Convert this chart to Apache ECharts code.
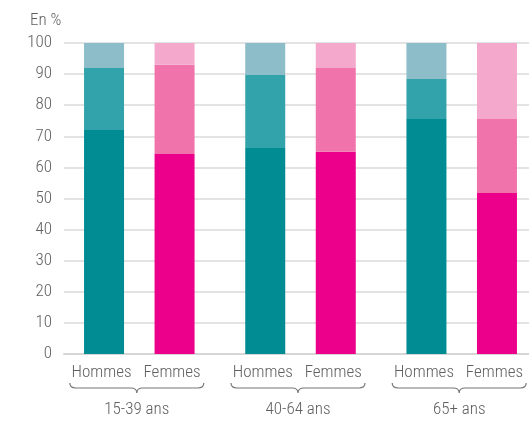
<!DOCTYPE html>
<html>
<head>
<meta charset="utf-8">
<script src="https://cdn.jsdelivr.net/npm/echarts@6/dist/echarts.min.js"></script>
<style>html,body{margin:0;padding:0;background:#fff}#c{width:529px;height:422px}</style>
</head>
<body>
<div id="c"></div>
<script>
// ---- data ----
const groups = ['15-39 ans', '40-64 ans', '65+ ans'];
const sexes = ['Hommes', 'Femmes'];
const hommesBas = [72.0, 66.2, 75.6];
const hommesMilieu = [20.0, 23.5, 12.8];
const hommesHaut = [8.0, 10.3, 11.6];
const femmesBas = [64.3, 65.0, 51.8];
const femmesMilieu = [28.7, 27.0, 23.8];
const femmesHaut = [7.0, 8.0, 24.4];
const yTicks = [0, 10, 20, 30, 40, 50, 60, 70, 80, 90, 100];

// ---- layout constants ----
const GAP_IN = 6;   // empty slots between Hommes and Femmes
const GAP_OUT = 8;  // empty slots between groups
const FONT = '"Roboto Condensed", "Roboto", sans-serif';
const FS = 17;
const FW = 300;
const TXT = '#606060';
const colors = {
  Hommes: ['#008c92', '#33a3ab', '#8cbdc8'],
  Femmes: ['#ec008b', '#f173ab', '#f4a8cb']
};
const values = {
  Hommes: [hommesBas, hommesMilieu, hommesHaut],
  Femmes: [femmesBas, femmesMilieu, femmesHaut]
};

// build category slots
const cats = [];
const slotOf = [];
groups.forEach((g, gi) => {
  if (gi > 0) for (let k = 0; k < GAP_OUT; k++) cats.push('');
  slotOf[gi] = [];
  sexes.forEach((s, si) => {
    if (si > 0) for (let k = 0; k < GAP_IN; k++) cats.push('');
    slotOf[gi][si] = cats.length;
    cats.push(s);
  });
});

const levelSeries = [0, 1, 2].map(level => {
  const data = cats.map(() => null);
  groups.forEach((g, gi) => {
    sexes.forEach((s, si) => {
      data[slotOf[gi][si]] = {
        value: values[s][level][gi],
        itemStyle: { color: colors[s][level] }
      };
    });
  });
  return {
    type: 'bar', stack: 'total', xAxisIndex: 1, yAxisIndex: 1,
    barWidth: 40, data: data, silent: true, clip: false
  };
});

const braceData = groups.map((g, gi) => [slotOf[gi][0], slotOf[gi][1]]);

const braceSeries = {
  type: 'custom', xAxisIndex: 1, yAxisIndex: 1, silent: true, clip: false,
  data: braceData,
  encode: { x: [0, 1], y: [] },
  renderItem: function (params, api) {
    const a = api.coord([api.value(0), 0]);
    const b = api.coord([api.value(1), 0]);
    const mid = (a[0] + b[0]) / 2 - 2.5;
    const x1 = mid - 67, x2 = mid + 67;
    const y0 = a[1];
    const yT = y0 + 29, yL = y0 + 34, yB = y0 + 39;
    const p = `M${x1},${yT} Q${x1},${yL} ${x1 + 6},${yL} L${mid - 6},${yL} Q${mid},${yL} ${mid},${yB} Q${mid},${yL} ${mid + 6},${yL} L${x2 - 6},${yL} Q${x2},${yL} ${x2},${yT}`;
    return {
      type: 'group',
      children: [
        { type: 'path', shape: { pathData: p }, style: { fill: null, stroke: '#777', lineWidth: 1.2 } },
        { type: 'text', x: mid, y: y0 + 56, style: { text: groups[params.dataIndex], fill: TXT, font: FW + ' ' + FS + 'px ' + FONT, align: 'center', verticalAlign: 'middle' } }
      ]
    };
  }
};

const chart = echarts.init(document.getElementById('c'), null, { renderer: 'canvas' });
chart.setOption({
  animation: false,
  title: { text: 'En %', left: 25, top: 7, textStyle: { color: TXT, fontFamily: FONT, fontSize: FS, fontWeight: FW } },
  grid: [
    { left: 64, right: 0, top: 43, bottom: 68 },
    { left: 99, right: 27, top: 43, bottom: 68 }
  ],
  xAxis: [
    { gridIndex: 0, type: 'value', min: 0, max: 1, axisLabel: { show: false }, axisTick: { show: false }, splitLine: { show: false },
      axisLine: { show: true, lineStyle: { color: '#d6d6d6', width: 2 } } },
    { gridIndex: 1, type: 'category', data: cats, axisTick: { show: false }, axisLine: { show: false },
      axisLabel: { interval: 0, color: TXT, fontFamily: FONT, fontSize: FS, fontWeight: FW, margin: 10, padding: [0, 5, 0, 0] } }
  ],
  yAxis: [
    { gridIndex: 0, type: 'value', min: 0, max: 100, interval: 10,
      axisLabel: { color: TXT, fontFamily: FONT, fontSize: FS, fontWeight: FW, margin: 12,
        formatter: v => (yTicks.indexOf(v) >= 0 ? String(v) : '') },
      axisLine: { show: false }, axisTick: { show: false },
      splitLine: { lineStyle: { color: '#dadada', width: 1.5 } } },
    { gridIndex: 1, type: 'value', min: 0, max: 100, show: false }
  ],
  series: levelSeries.concat([braceSeries])
});
</script>
</body>
</html>
